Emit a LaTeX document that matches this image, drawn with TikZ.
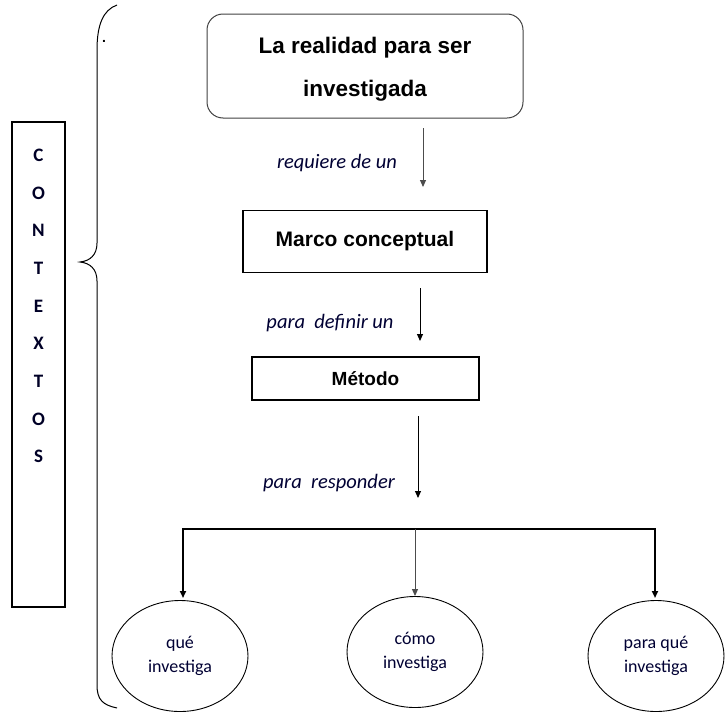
\documentclass[tikz,border=0pt]{standalone}
\usepackage{fontspec}
\setmainfont{Liberation Sans}
\newfontfamily\calfont{Carlito}
\usetikzlibrary{arrows.meta,shapes.geometric}
\begin{document}
\begin{tikzpicture}[x=1pt,y=-1pt,
  tip/.style={-{Triangle[length=7pt,width=6pt]}},
  thinconn/.style={tip, line width=1pt},
  thickconn/.style={tip, line width=1.8pt},
  lbl/.style={font=\calfont\itshape\fontsize{20.5}{24}\selectfont, text=black!80!blue, inner sep=0pt},
  headbox/.style={draw, line width=1.2pt, inner sep=0pt, font=\bfseries\fontsize{21}{24}\selectfont},
  oval/.style={draw, ellipse, line width=0.9pt, minimum width=136pt, minimum height=111pt, inner sep=0pt, align=center,
    font=\calfont\fontsize{18}{24}\selectfont, text=black!80!blue}
]
\useasboundingbox (0,0) rectangle (725,715);

% brace
\draw[line width=1pt] (117,5) .. controls (103,10) and (97,25) .. (97,50)
  -- (97,243) .. controls (97,255) and (90,261) .. (80,262)
  .. controls (90,263) and (97,269) .. (97,281)
  -- (97,685) .. controls (97,700) and (103,705) .. (117,708);
\node[inner sep=0pt, font=\bfseries\fontsize{14}{16}\selectfont] (dot) at (104,41) {.};

% CONTEXTOS
\node[draw, line width=1.2pt, minimum width=53pt, minimum height=485pt, inner sep=0pt] (ctxbox) at (38.5,364.5) {};
\node[align=center, font=\calfont\bfseries\fontsize{19}{37.7}\selectfont, text=black!85!blue] (ctx) at (38.5,306)
  {C\\O\\N\\T\\E\\X\\T\\O\\S};

% main boxes
\node[draw=black!75, line width=1pt, rounded corners=16pt, minimum width=316pt, minimum height=104pt, inner sep=0pt] (real) at (365,66) {};
\node[align=center, inner sep=0pt, font=\bfseries\fontsize{22.5}{43}\selectfont] (realtxt) at (365,69.5) {La realidad para ser\\investigada};
\node[headbox, minimum width=244pt, minimum height=62pt] (marco) at (365,241.5) {Marco conceptual};
\node[headbox, minimum width=227pt, minimum height=43pt, font=\bfseries\fontsize{19}{22}\selectfont] (metodo) at (365.5,378.5) {Método};

% arrows between boxes
\coordinate (a1s) at (423,128); \coordinate (a1e) at (423,187);
\coordinate (a2s) at (420,288); \coordinate (a2e) at (420,341);
\coordinate (a3s) at (418,416); \coordinate (a3e) at (418,498);
\draw[thinconn, draw=black!70, fill=black!70] (a1s) -- (a1e);
\draw[thinconn] (a2s) -- (a2e);
\draw[thinconn] (a3s) -- (a3e);
\node[lbl] (l1) at (337,163) {requiere de un};
\node[lbl] (l2) at (330,323) {para\ \ definir un};
\node[lbl] (l3) at (329,483) {para\ \ responder};

% ovals
\node[oval] (que) at (180,656) {qué\\investiga};
\node[oval] (como) at (415,652) {cómo\\investiga};
\node[oval] (paraque) at (656,656) {para qué\\investiga};

% distribution bar
\coordinate (bl) at (183,529);
\coordinate (bm) at (415,529);
\coordinate (br) at (655,529);
\draw[line width=2.6pt] ([xshift=-1pt]bl) -- ([xshift=1pt]br);
\draw[thickconn] (bl) -- (bl |- 0,598);
\draw[thinconn, draw=black!70, fill=black!70] (bm) -- (como.north);
\draw[thickconn] (br) -- (br |- 0,598);
\end{tikzpicture}
\end{document}
